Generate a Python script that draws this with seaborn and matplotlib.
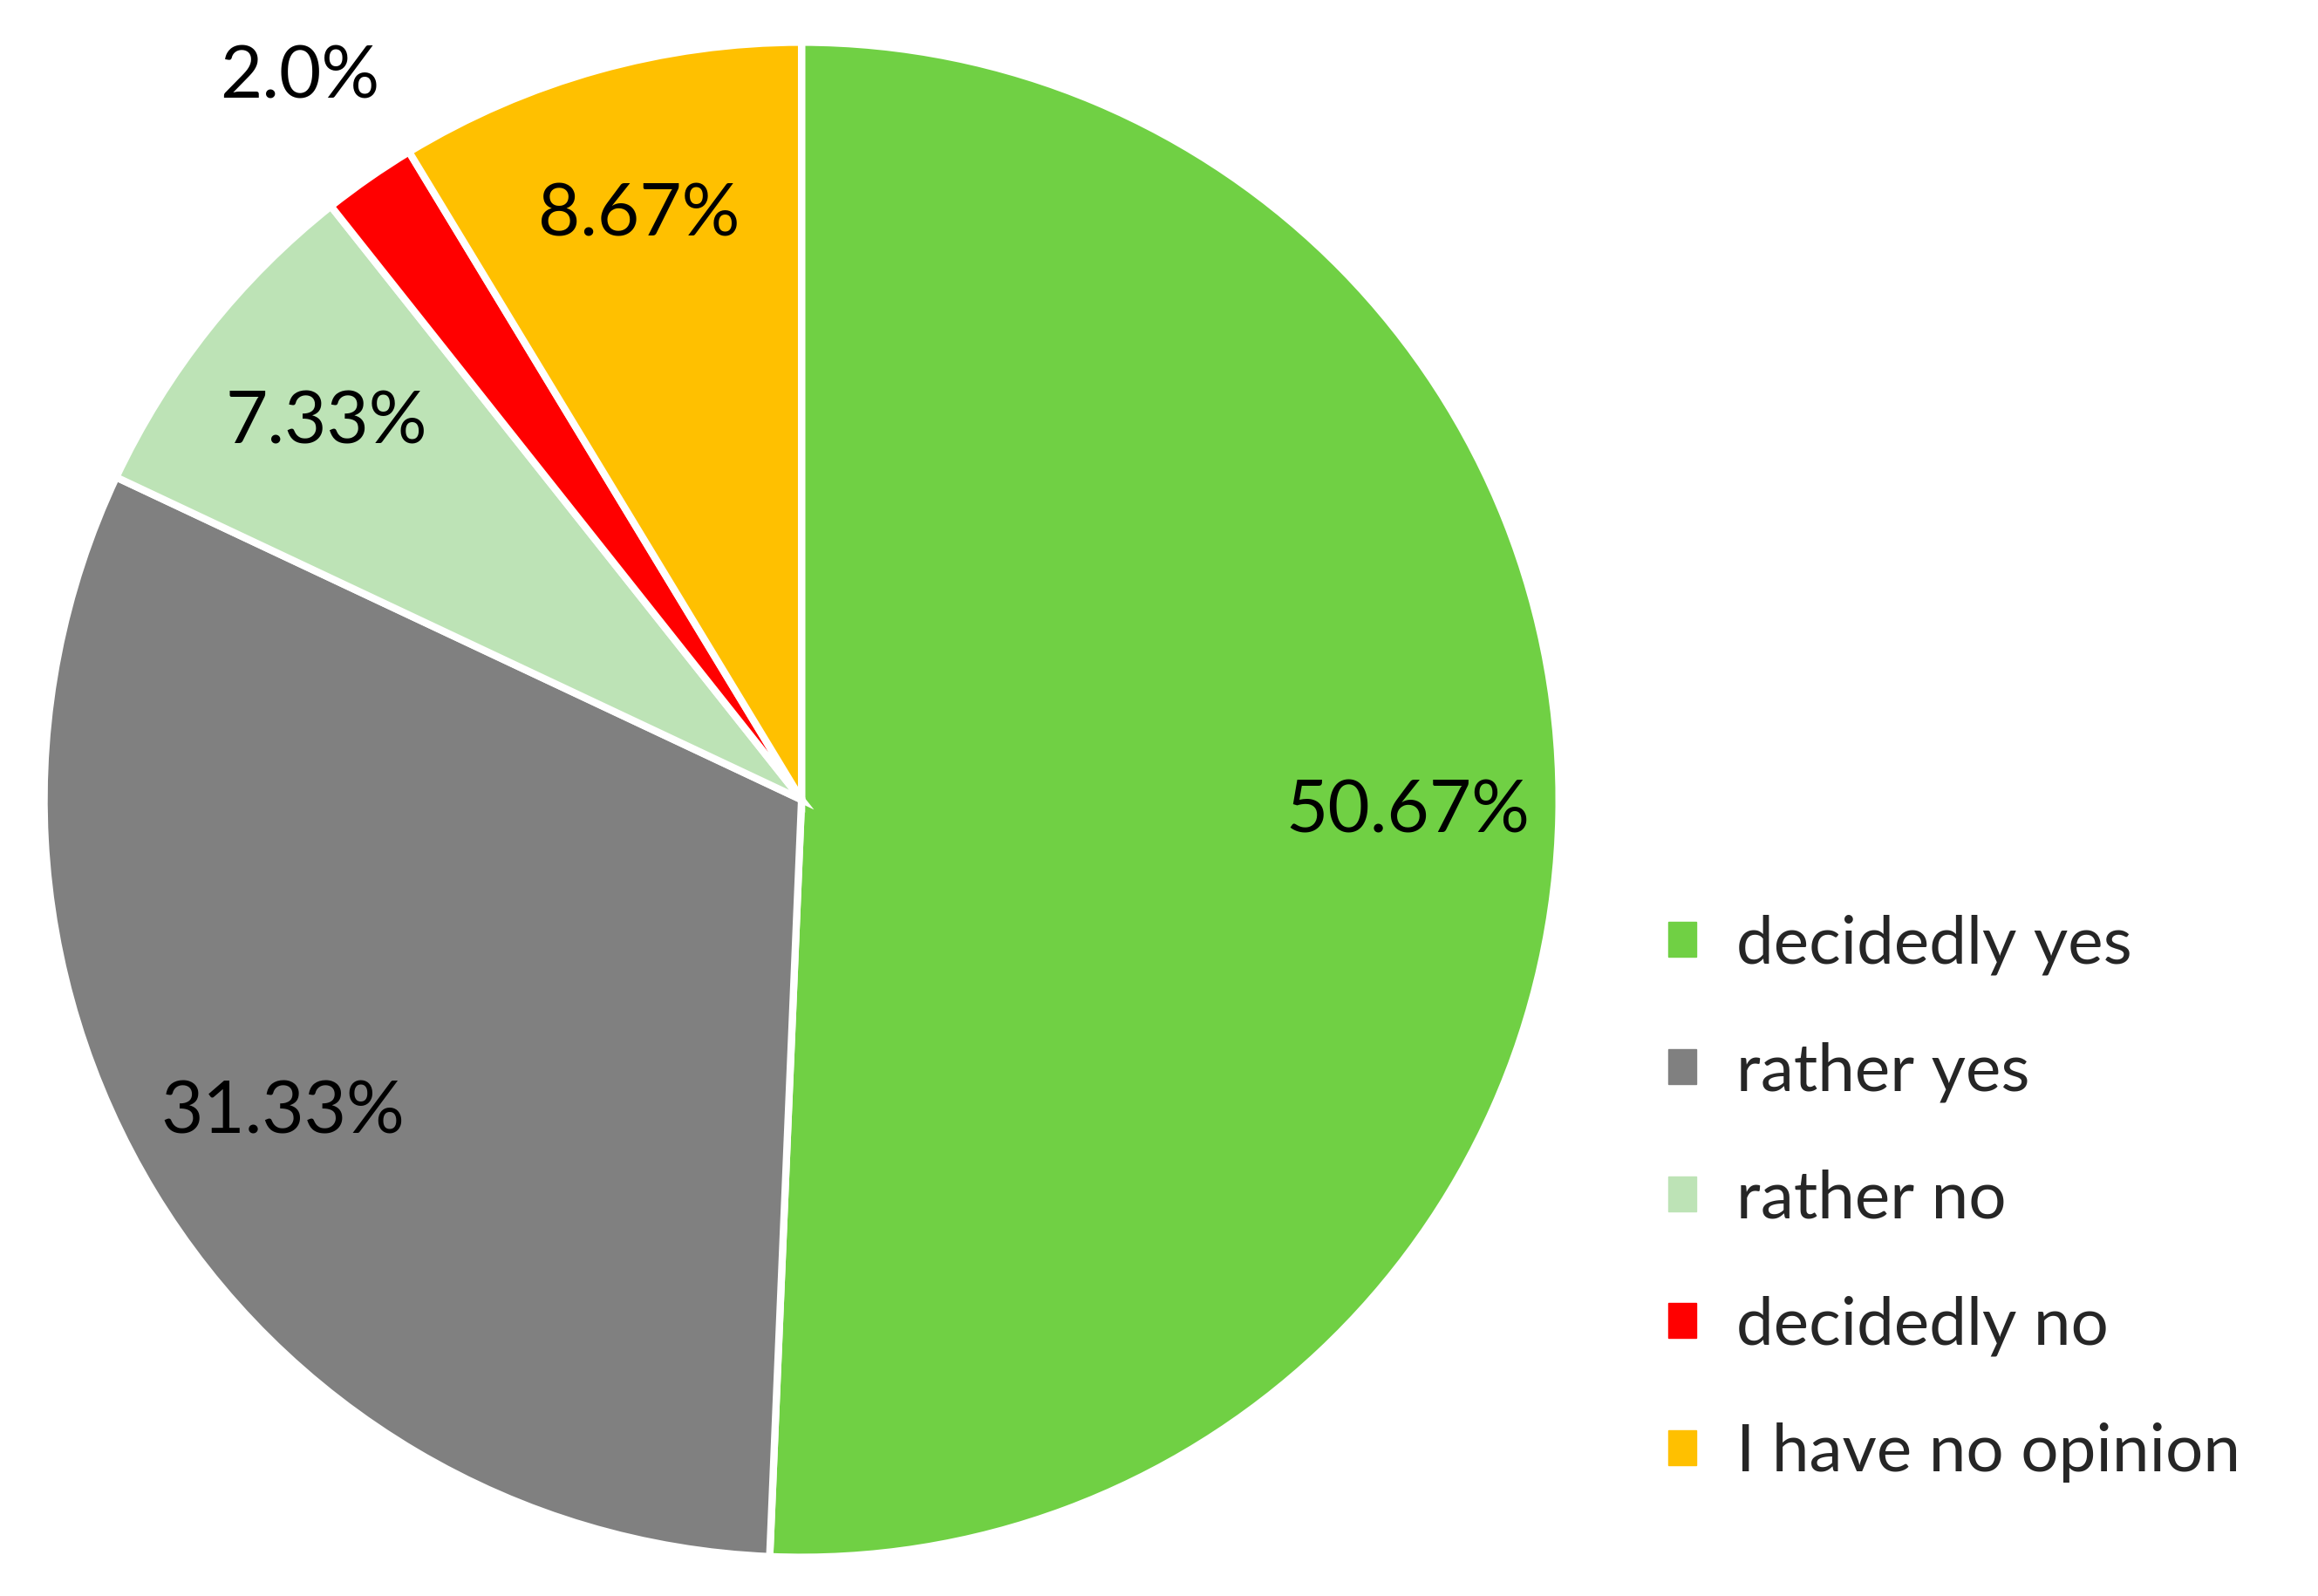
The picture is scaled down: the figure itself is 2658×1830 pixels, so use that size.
import matplotlib
matplotlib.use("Agg")
import matplotlib.pyplot as plt
import seaborn as sns
from matplotlib.patches import Patch

categories = ["decidedly yes", "rather yes", "rather no", "decidedly no", "I have no opinion"]
values = [50.67, 31.33, 7.33, 2.0, 8.67]
value_labels = ["50.67%", "31.33%", "7.33%", "2.0%", "8.67%"]
colors = ["#70D044", "#808080", "#BDE3B6", "#FF0000", "#FFC000"]

sns.set_theme(style="white")
plt.rcParams['font.family'] = ['Lato', 'DejaVu Sans']

fig = plt.figure(figsize=(26.58, 18.30), dpi=100)
ax = fig.add_axes([0.0173, 0.0219, 0.657, 0.954])
wedges, texts, autotexts = ax.pie(
    values, colors=colors, startangle=90, counterclock=False,
    autopct=lambda p: "", pctdistance=0.8,
    wedgeprops=dict(edgecolor="white", linewidth=6))
for t, lab in zip(autotexts, value_labels):
    t.set_text(lab)
    t.set_fontsize(60)
    t.set_color("black")
x, y = autotexts[3].get_position()
autotexts[3].set_position((x * 1.45, y * 1.45))
ax.set_xlim(-1.005, 1.005)
ax.set_ylim(-1.005, 1.005)
ax.set_aspect("equal")

handles = [Patch(facecolor=c, edgecolor=c) for c in colors]
fig.legend(handles, categories, loc="center left", bbox_to_anchor=(0.694, 0.249),
           frameon=False, fontsize=55, handlelength=0.42, handleheight=0.42,
           handletextpad=0.6, labelspacing=1.0)
fig.savefig("out.png", dpi=100, facecolor="white")
